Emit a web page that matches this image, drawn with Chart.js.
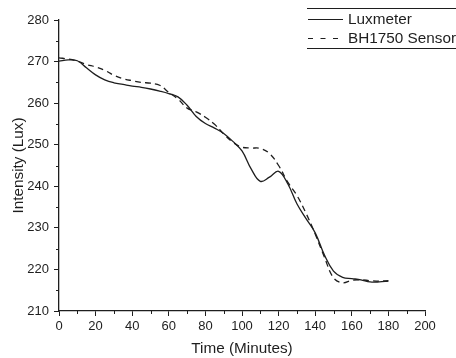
<!DOCTYPE html>
<html>
<head>
<meta charset="utf-8">
<script src="https://cdn.jsdelivr.net/npm/chart.js@4/dist/chart.umd.min.js"></script>
<style>
  html, body { margin: 0; padding: 0; background: #fff; }
  #wrap { width: 456px; height: 358px; position: relative; }
</style>
</head>
<body>
<div id="wrap"><canvas id="chart"></canvas></div>
<script>
// time in minutes
const minutes = [0, 5, 10, 15, 20, 25, 30, 35, 40, 45, 50, 55, 60, 65, 70, 75, 80, 85, 90,
  95, 100, 105, 110, 115, 120, 125, 130, 135, 140, 145, 150, 155, 160, 165, 170, 175, 180];

const luxmeter = [270.1, 270.4, 270.2, 268.5, 266.8, 265.6, 264.9, 264.5, 264.1, 263.8, 263.4,
  262.9, 262.3, 261.5, 259.5, 256.8, 255.1, 254.0, 252.7, 250.8, 248.5, 244.2, 241.2, 242.2,
  243.6, 240.6, 235.8, 232.2, 228.8, 223.5, 219.6, 218.1, 217.8, 217.5, 217.0, 217.0, 217.2];

const bh1750 = [270.9, 270.6, 270.1, 269.3, 268.7, 267.9, 266.7, 265.9, 265.4, 265.0, 264.8,
  264.3, 262.6, 261.0, 258.8, 257.9, 256.6, 254.9, 252.6, 250.6, 249.4, 249.2, 249.1, 247.9,
  245.0, 241.0, 237.8, 233.5, 228.5, 223.0, 218.0, 216.8, 217.4, 217.5, 217.3, 217.2, 217.3];

const xTicks = [0, 20, 40, 60, 80, 100, 120, 140, 160, 180, 200];
const yTicks = [210, 220, 230, 240, 250, 260, 270, 280];

const seriesNames = ['Luxmeter', 'BH1750 Sensor'];

const ink = '#1e1e1e';
const fontFamily = '"Liberation Sans", Arial, sans-serif';

function toPoints(xs, ys) {
  return xs.map(function (x, i) { return { x: x, y: ys[i] }; });
}

// minor ticks halfway between the labelled ones, plus the custom legend box
const extrasPlugin = {
  id: 'extras',
  afterDraw: function (chart) {
    const ctx = chart.ctx;
    const xs = chart.scales.x;
    const ys = chart.scales.y;
    ctx.save();
    ctx.strokeStyle = ink;
    ctx.lineWidth = 1;
    ctx.beginPath();
    for (let i = 0; i < xTicks.length - 1; i++) {
      const px = Math.round(xs.getPixelForValue((xTicks[i] + xTicks[i + 1]) / 2)) + 0.5;
      ctx.moveTo(px, ys.bottom);
      ctx.lineTo(px, ys.bottom + 3);
    }
    for (let i = 0; i < yTicks.length - 1; i++) {
      const py = Math.round(ys.getPixelForValue((yTicks[i] + yTicks[i + 1]) / 2)) + 0.5;
      ctx.moveTo(xs.left, py);
      ctx.lineTo(xs.left - 3, py);
    }
    ctx.stroke();

    // legend
    const lx = 307, top = 8, bottom = 48;
    ctx.beginPath();
    ctx.moveTo(lx, top + 0.5); ctx.lineTo(chart.width, top + 0.5);
    ctx.moveTo(lx, bottom + 0.5); ctx.lineTo(chart.width, bottom + 0.5);
    ctx.stroke();

    const rows = [19, 38];
    chart.data.datasets.forEach(function (ds, i) {
      ctx.beginPath();
      ctx.lineWidth = 1.2;
      ctx.setLineDash(ds.borderDash ? [5, 7.5] : []);
      ctx.moveTo(308, rows[i] + 0.5);
      ctx.lineTo(343, rows[i] + 0.5);
      ctx.stroke();
      ctx.setLineDash([]);
      ctx.fillStyle = ink;
      ctx.font = '15.3px ' + fontFamily;
      ctx.textBaseline = 'middle';
      ctx.fillText(ds.label, 348, rows[i] + 1);
    });
    ctx.restore();
  }
};

new Chart(document.getElementById('chart'), {
  type: 'line',
  data: {
    datasets: [{
      label: seriesNames[0],
      data: toPoints(minutes, luxmeter),
      borderColor: ink,
      borderWidth: 1.3,
      pointRadius: 0,
      tension: 0.4,
      fill: false
    }, {
      label: seriesNames[1],
      data: toPoints(minutes, bh1750),
      borderColor: ink,
      borderWidth: 1.3,
      borderDash: [6, 4],
      pointRadius: 0,
      tension: 0.4,
      fill: false
    }]
  },
  options: {
    responsive: true,
    maintainAspectRatio: false,
    animation: false,
    layout: { padding: { top: 20, right: 31, left: 0, bottom: 0 } },
    plugins: {
      legend: { display: false },
      tooltip: { enabled: false }
    },
    scales: {
      x: {
        type: 'linear',
        min: 0,
        max: 200,
        afterBuildTicks: function (scale) {
          scale.ticks = xTicks.map(function (v) { return { value: v }; });
        },
        afterFit: function (scale) { scale.height = 47; },
        border: { display: true, color: ink, width: 1.3 },
        grid: { drawOnChartArea: false, drawTicks: true, tickLength: 5, color: ink },
        ticks: {
          color: ink,
          padding: 3,
          maxRotation: 0,
          font: { size: 13, family: fontFamily }
        },
        title: {
          display: true,
          text: 'Time (Minutes)',
          color: ink,
          padding: { top: 1, bottom: 0 },
          font: { size: 15.3, family: fontFamily }
        }
      },
      y: {
        type: 'linear',
        min: 210,
        max: 280,
        afterBuildTicks: function (scale) {
          scale.ticks = yTicks.map(function (v) { return { value: v }; });
        },
        afterFit: function (scale) { scale.width = 59; },
        border: { display: true, color: ink, width: 1.3 },
        grid: { drawOnChartArea: false, drawTicks: true, tickLength: 5, color: ink },
        ticks: {
          color: ink,
          padding: 5,
          font: { size: 13, family: fontFamily }
        },
        title: {
          display: true,
          text: 'Intensity (Lux)',
          color: ink,
          padding: { top: 10, bottom: 0 },
          font: { size: 15.3, family: fontFamily }
        }
      }
    }
  },
  plugins: [extrasPlugin]
});
</script>
</body>
</html>
